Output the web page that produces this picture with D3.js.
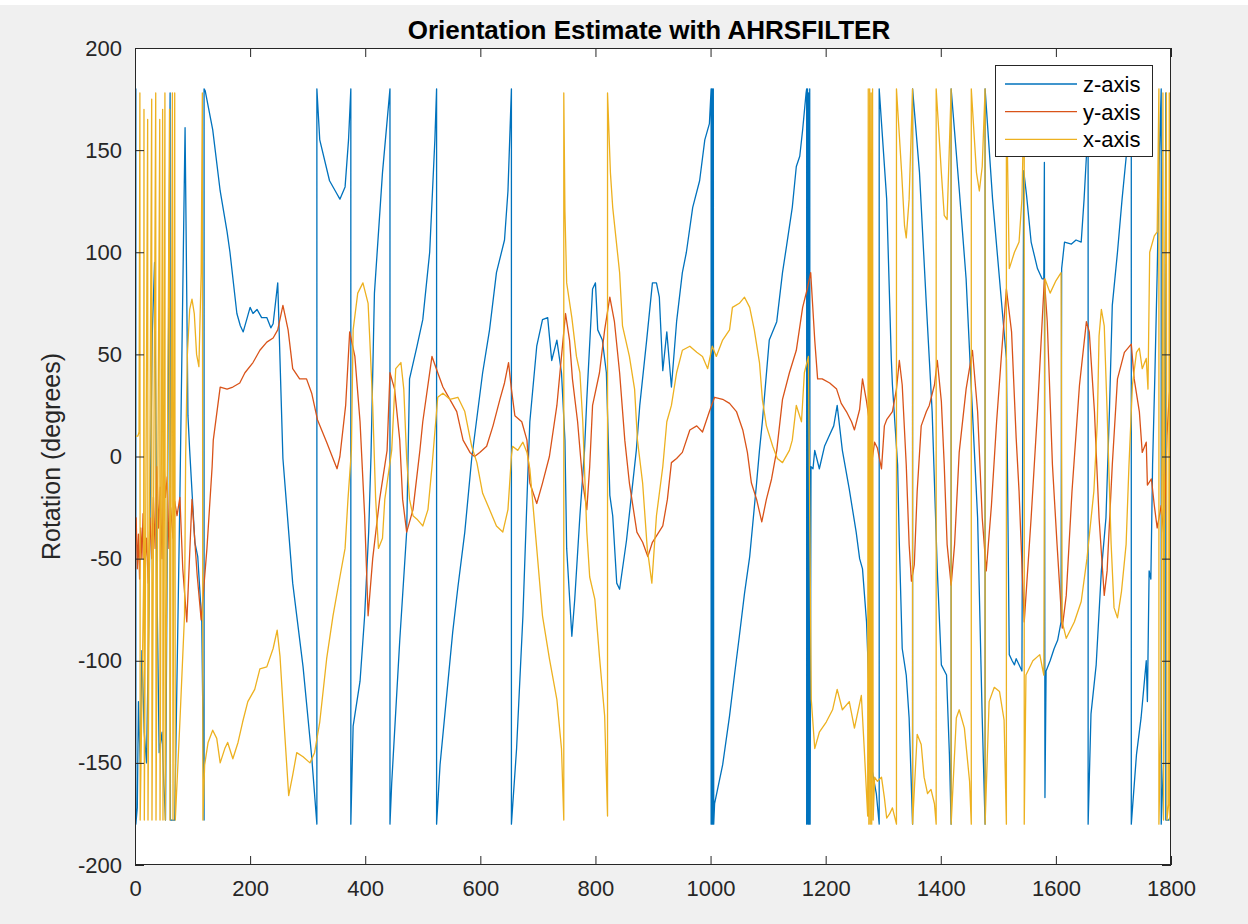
<!DOCTYPE html>
<html><head><meta charset="utf-8">
<script src="https://cdn.jsdelivr.net/npm/d3@7"></script>
<style>
html,body{margin:0;padding:0;background:#f0f0f0;}
svg{display:block;}
</style></head><body>
<svg id="chart" width="1248" height="924"></svg>
<script>
const xTicks=[0,200,400,600,800,1000,1200,1400,1600,1800];
const yTicks=[-200,-150,-100,-50,0,50,100,150,200];
const seriesNames=["z-axis","y-axis","x-axis"];
const seriesColors=["#0072BD","#D95319","#EDB120"];
const titleText="Orientation Estimate with AHRSFILTER";
const yLabelText="Rotation (degrees)";

// z-axis rotation [time sample, degrees]
const zAxis=[[0,105],[1.5,180],[1.5,-180],[4,-172],[6,-120],[9,-150],[12,-95],[16,-135],[20,-150],[24,-80],[30,60],[34,95],[36,30],[38,-60],[42,-145],[47,-135],[50,-160],[53,-178],[61,178],[61.5,-178],[69,-178],[78,-20],[87,161],[92,20],[95,3],[104,-42],[109,-49],[116,-81],[120,-178],[120,180],
[122,179],[135,160],[148,130],[160,110],[165,100],[177,70],[183,64],[188,61],[195,68],[200,73],[205,70],[212,72],[220,68],[229,68],[236,63],[240,65],[248,85],[257,-1],[274,-62],[292,-103],[307,-147],[316,-180],[316,180],[321,155],[338,135],[350,129],[356,126],[365,132],[371,155],[375,180],[375,-180],[379,-132],[391,-110],[399,-78],[406,-37],[410,0],[416,80],[430,139],[443,180],[443,-180],[446,-160],[460,-90],[472,-37],[477,38],[490,54],[500,67],[512,100],[521,155],[524,180],[524,-180],[530,-151],[552,-86],[561,-64],[573,-37],[585,-1],[604,41],[616,62],[628,90],[642,106],[648,130],[654,180],[654,-180],[663,-143],[674,-78],[682,-13],[686,17],[698,54],[708,67],[717,68],[724,47],[733,57],[741,41],[747,8],[750,-45],[759,-88],[764,-70],[773,-29],[781,3],[785,28],[795,82],[800,85],[804,62],[812,57],[819,41],[825,-19],[830,-29],[837,-62],[842,-65],[854,-41],[871,3],[877,25],[889,57],[899,85],[906,85],[911,78],[917,42],[924,61],[932,34],[941,66],[951,90],[958,100],[969,122],[981,135],[990,155],[998,163],[1001,180],[1001,-180],[1002,180],[1002.6,-180],[1003.4,180],[1004,-180],[1004.8,180],[1005.5,-180],[1007,-170],[1021,-151],[1033,-127],[1042,-106],[1050,-88],[1059,-67],[1068,-49],[1080,-13],[1085,3],[1090,17],[1102,57],[1115,66],[1125,90],[1132,103],[1142,122],[1149,142],[1155,147],[1160,160],[1166,178],[1167,180],[1167,-180],[1168.5,180],[1169.3,-180],[1170.5,178],[1171.2,-180],[1172.3,180],[1173,-180],[1174.5,-5],[1178,-6],[1181,3],[1189,-6],[1198,5],[1206,10],[1214,15],[1220,25],[1229,3],[1241,-16],[1253,-37],[1259,-50],[1264,-55],[1271,-81],[1276,-120],[1281,-154],[1288,-165],[1293,-180],[1293,180],[1306,126],[1314,48],[1316,35],[1325,-4],[1328,-43],[1333,-94],[1340,-107],[1345,-128],[1351,-180],[1351,180],[1363,139],[1375,74],[1385,22],[1394,-56],[1401,-102],[1410,-107],[1415,-146],[1418,-180],[1418,180],[1432,131],[1444,87],[1455,22],[1464,-30],[1472,-128],[1477,-180],[1477,180],[1490,126],[1502,87],[1514,48],[1519,-97],[1524,-100],[1528,-102],[1531,-99],[1536,-102],[1541,-105],[1544,140],[1549,128],[1557,105],[1568,92],[1576,87],[1579,87],[1580,144],[1581,-167],[1583,-105],[1590,-100],[1597,-94],[1603,-90],[1609,-81],[1610,92],[1615,105],[1627,104],[1635,106],[1644,105],[1649,126],[1654,152],[1656,180],[1656,-180],[1661,-126],[1670,-102],[1679,-56],[1687,-30],[1693,22],[1698,74],[1707,100],[1715,126],[1724,152],[1731,180],[1731,-180],[1740,-146],[1748,-128],[1757,-100],[1759,-120],[1762,-56],[1765,-60],[1768,-4],[1772,40],[1776,90],[1780,150],[1783,180],[1783,-180],[1787,-150],[1791,178],[1791,-178],[1796,-178],[1800,-176]];

// y-axis rotation
const yAxis=[[0,-45],[2,-30],[4,-55],[6,-38],[8,-60],[10,-35],[12,-50],[14,-28],[17,-55],[20,-40],[23,-62],[26,-30],[29,-50],[32,-20],[35,-45],[38,-5],[41,-35],[44,-15],[47,-50],[50,0],[53,-20],[56,-10],[59,-45],[62,-25],[66,-40],[69,-22],[73,-29],[78,-20],[83,-55],[90,-81],[99,-21],[108,-58],[115,-80],[125,-45],[134,-5],[136,8],[148,34],[160,33],[170,34],[182,36],[191,41],[205,46],[217,52],[229,56],[240,58],[248,62],[257,74],[266,62],[274,43],[286,38],[298,38],[307,31],[317,18],[333,7],[344,-1],[351,-6],[356,0],[366,25],[373,61],[382,49],[391,17],[399,-29],[405,-78],[413,-50],[425,-21],[438,3],[443,41],[451,33],[460,8],[465,-21],[472,-37],[483,-26],[495,3],[500,17],[516,49],[526,41],[535,34],[547,28],[559,22],[570,8],[582,2],[590,0],[599,2],[611,5],[622,15],[634,28],[642,36],[649,46],[654,33],[660,20],[672,17],[681,8],[686,-13],[698,-23],[708,-13],[720,0],[733,25],[741,49],[748,70],[755,57],[760,38],[769,17],[778,-13],[785,-26],[790,-5],[795,25],[807,41],[816,62],[825,78],[833,66],[842,41],[851,8],[859,-13],[872,-37],[882,-42],[891,-49],[899,-42],[908,-38],[917,-34],[925,-21],[932,-3],[941,-1],[951,2],[964,13],[976,15],[986,12],[998,22],[1007,29],[1021,28],[1033,26],[1045,22],[1056,13],[1064,2],[1071,-13],[1080,-21],[1089,-32],[1097,-21],[1106,-11],[1115,3],[1125,28],[1137,41],[1149,52],[1160,73],[1168,82],[1174,90],[1181,57],[1186,38],[1194,38],[1207,36],[1219,33],[1227,26],[1236,22],[1245,17],[1250,13],[1259,23],[1264,38],[1271,27],[1276,17],[1281,-1],[1285,7],[1290,4],[1297,-6],[1302,15],[1306,18],[1316,22],[1323,33],[1328,47],[1333,35],[1340,-4],[1345,-43],[1349,-61],[1354,-53],[1359,-17],[1366,15],[1375,22],[1380,25],[1389,35],[1394,47],[1401,27],[1406,-4],[1411,-43],[1418,-63],[1424,-43],[1432,2],[1444,33],[1455,52],[1464,22],[1472,-30],[1479,-56],[1488,-24],[1497,17],[1505,48],[1514,82],[1523,61],[1531,9],[1536,-17],[1545,-81],[1557,-30],[1568,22],[1580,87],[1585,66],[1594,-4],[1602,-43],[1611,-84],[1618,-68],[1628,-17],[1641,35],[1653,66],[1658,61],[1667,22],[1675,-30],[1684,-68],[1689,-56],[1698,-4],[1707,38],[1719,51],[1731,55],[1736,38],[1745,22],[1750,2],[1757,7],[1759,-14],[1766,-11],[1771,-24],[1776,-35],[1783,-24],[1788,-40],[1793,10],[1797,30],[1800,38]];

// x-axis rotation
const xAxis=[[0,10],[5,10],[7,12],[8.5,178],[9,-178],[15,-60],[15.6,170],[16.2,-178],[22,165],[22.6,-178],[29,175],[29.5,-178],[36,178],[36.5,-178],[43,165],[43.5,-178],[48,170],[48.6,-178],[52,178],[52.5,-178],[60,170],[60.8,-178],[65,178],[66,-178],[69,178],[70,-178],[78,-130],[86,-78],[88,0],[91,50],[95,72],[99,77],[103,70],[107,50],[111,44],[115,90],[117,178],[118,-178],[121,-151],[127,-140],[135,-134],[142,-138],[148,-150],[156,-143],[161,-140],[170,-148],[179,-140],[187,-130],[196,-120],[208,-114],[217,-104],[229,-103],[240,-94],[247,-85],[252,-98],[260,-135],[267,-166],[274,-156],[281,-145],[292,-147],[304,-150],[312,-145],[321,-130],[333,-99],[344,-78],[356,-59],[365,-45],[370,-21],[376,3],[379,62],[387,80],[396,85],[405,75],[408,57],[413,25],[418,-20],[423,-45],[430,-40],[434,-21],[446,3],[453,43],[462,46],[467,33],[472,-1],[477,-21],[483,-29],[491,-31],[500,-34],[509,-26],[516,-5],[526,29],[535,31],[547,28],[561,29],[573,22],[585,5],[594,-3],[604,-18],[616,-26],[628,-34],[639,-37],[648,-26],[654,0],[656,5],[665,3],[674,7],[681,2],[686,-6],[698,-45],[708,-78],[720,-99],[733,-119],[741,-143],[745,-178],[745,178],[747,120],[750,85],[759,68],[767,49],[773,41],[778,17],[785,-37],[790,-59],[799,-70],[807,-98],[816,-127],[821,-176],[821,178],[826,139],[830,122],[842,90],[847,64],[859,49],[868,33],[873,8],[882,-13],[890,-45],[898,-62],[906,-29],[917,-5],[924,17],[932,25],[941,41],[951,52],[964,54],[976,51],[986,49],[995,43],[1003,54],[1010,49],[1021,57],[1033,62],[1038,73],[1050,75],[1059,78],[1068,73],[1076,62],[1085,46],[1090,28],[1097,15],[1108,5],[1116,-1],[1125,-3],[1137,3],[1142,8],[1149,25],[1158,17],[1163,41],[1170,49],[1175,-119],[1181,-143],[1189,-135],[1201,-130],[1212,-124],[1220,-114],[1229,-124],[1241,-120],[1250,-133],[1262,-117],[1267,-143],[1273,-176],[1274,180],[1275,-180],[1276.5,180],[1277.5,-180],[1279,178],[1280,-180],[1281.5,180],[1282.5,-178],[1285,-157],[1290,-159],[1297,-157],[1302,-167],[1306,-177],[1311,-175],[1316,-172],[1323,-180],[1323,180],[1332,139],[1337,113],[1340,107],[1345,126],[1351,180],[1351,-180],[1359,-136],[1366,-141],[1371,-157],[1377,-165],[1383,-163],[1389,-170],[1392,-180],[1392,180],[1401,139],[1406,118],[1411,116],[1418,180],[1418,-180],[1427,-128],[1432,-124],[1441,-133],[1450,-159],[1453,-180],[1453,180],[1462,139],[1467,130],[1472,142],[1477,180],[1477,-180],[1484,-120],[1493,-113],[1502,-115],[1510,-129],[1514,-180],[1514,180],[1519,92],[1528,100],[1536,105],[1541,126],[1545,180],[1545,-180],[1548,-107],[1560,-100],[1572,-97],[1579,-107],[1581,87],[1590,80],[1600,86],[1609,90],[1611,-81],[1618,-89],[1632,-81],[1644,-71],[1654,-50],[1666,-17],[1672,17],[1675,59],[1679,72],[1684,64],[1689,22],[1696,-43],[1701,-74],[1707,-79],[1714,-66],[1722,-43],[1727,-4],[1733,35],[1740,51],[1745,53],[1750,43],[1757,48],[1760,33],[1763,100],[1771,108],[1776,110],[1779,180],[1779,-180],[1783,-120],[1786,178],[1787,-178],[1790,100],[1792,178],[1793,-178],[1796,-170],[1797,178],[1798,-178],[1800,-178]];

const seriesData=[zAxis,yAxis,xAxis];

const W=1248,H=924;
const L=135,R=1171,T=48,B=865;
const FONT='"Liberation Sans", Arial, Helvetica, sans-serif';
const INK="#262626";
const fmt=d=>String(d);

const svg=d3.select("#chart");
svg.append("rect").attr("width",W).attr("height",H).attr("fill","#f0f0f0");
svg.append("rect").attr("width",W).attr("height",5).attr("fill","#ffffff");

const x=d3.scaleLinear().domain([0,1800]).range([L,R]);
const y=d3.scaleLinear().domain([-200,200]).range([B,T]);

svg.append("rect").attr("x",L).attr("y",T).attr("width",R-L).attr("height",B-T).attr("fill","#ffffff");

svg.append("clipPath").attr("id","plotclip").append("rect")
  .attr("x",L).attr("y",T).attr("width",R-L).attr("height",B-T);

const line=d3.line().x(d=>x(d[0])).y(d=>y(d[1]));
const plot=svg.append("g").attr("clip-path","url(#plotclip)");
seriesData.forEach((data,i)=>{
  plot.append("path").datum(data).attr("d",line)
    .attr("fill","none").attr("stroke",seriesColors[i])
    .attr("stroke-width",1.3).attr("stroke-linejoin","round");
});

function styleAxis(g,showText){
  g.select(".domain").remove();
  g.selectAll(".tick line").attr("stroke",INK).attr("stroke-width",1);
  g.selectAll(".tick text").attr("fill",INK).style("font-family",FONT).style("font-size","22px");
  if(!showText) g.selectAll(".tick text").remove();
}
const gB=svg.append("g").attr("transform",`translate(0,${B})`)
  .call(d3.axisBottom(x).tickValues(xTicks).tickSize(-9).tickPadding(15).tickFormat(fmt));
styleAxis(gB,true);
const gT=svg.append("g").attr("transform",`translate(0,${T})`)
  .call(d3.axisTop(x).tickValues(xTicks).tickSize(-9));
styleAxis(gT,false);
const gL=svg.append("g").attr("transform",`translate(${L},0)`)
  .call(d3.axisLeft(y).tickValues(yTicks).tickSize(-9).tickPadding(13).tickFormat(fmt));
styleAxis(gL,true);
const gR=svg.append("g").attr("transform",`translate(${R},0)`)
  .call(d3.axisRight(y).tickValues(yTicks).tickSize(-9));
styleAxis(gR,false);

svg.append("rect").attr("x",L+0.5).attr("y",T+0.5).attr("width",R-L-1).attr("height",B-T-1)
  .attr("fill","none").attr("stroke",INK).attr("stroke-width",1);

svg.append("text").attr("x",649).attr("y",39).attr("text-anchor","middle")
  .style("font-family",FONT).style("font-size","26px").style("font-weight","bold")
  .attr("fill","#000").text(titleText);

svg.append("text").attr("transform",`translate(60,${(T+B)/2}) rotate(-90)`)
  .attr("text-anchor","middle").style("font-family",FONT).style("font-size","25px")
  .attr("fill",INK).text(yLabelText);

// legend
const lg=svg.append("g");
lg.append("rect").attr("x",995.5).attr("y",65.5).attr("width",157).attr("height",91)
  .attr("fill","#fff").attr("stroke",INK).attr("stroke-width",1);
const legY=[84,111.7,139.3];
seriesNames.forEach((n,i)=>{
  lg.append("line").attr("x1",1005).attr("x2",1077).attr("y1",legY[i]).attr("y2",legY[i])
    .attr("stroke",seriesColors[i]).attr("stroke-width",1.3);
  lg.append("text").attr("x",1083).attr("y",legY[i]+8)
    .style("font-family",FONT).style("font-size","22px").attr("fill","#000").text(n);
});
</script>
</body></html>
